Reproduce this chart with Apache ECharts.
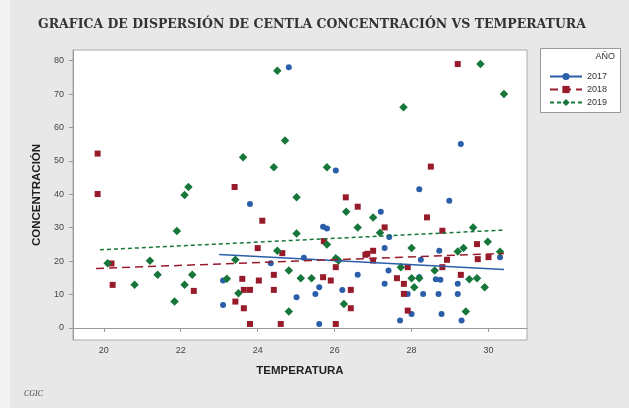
<!DOCTYPE html>
<html>
<head>
<meta charset="utf-8">
<script src="https://cdn.jsdelivr.net/npm/echarts@6/dist/echarts.min.js"></script>
<style>
    html, body { margin: 0; padding: 0; }
    #scatter { width: 629px; height: 408px; }
</style>
</head>
<body>
<div id="scatter"></div>
<script>
// datos: [temperatura, concentracion]
const years = ['2017', '2018', '2019'];

const pts2017 = [
    [23.1, 6.9], [23.1, 14.2], [23.8, 37.1], [24.81, 78], [26.03, 47.1], [25.7, 30.3],
    [25.8, 29.8], [25.2, 21], [24.34, 19.4], [26.6, 15.9], [25.6, 12.2], [25.5, 10.2],
    [26.2, 11.4], [25.01, 9.2], [25.6, 1.2], [29.28, 55.1], [28.2, 41.5], [28.98, 38.1],
    [27.2, 34.8], [27.42, 27.2], [27.3, 23.9], [28.72, 23.1], [30.3, 21.2], [28.24, 20.4],
    [27.4, 17.2], [28.2, 15.2], [28.63, 14.6], [28.75, 14.4], [27.3, 13.2], [29.2, 13.2],
    [27.9, 10.2], [28.3, 10.2], [28.7, 10.2], [29.2, 10.2], [28.0, 4.2], [28.78, 4.2],
    [27.7, 2.2], [29.3, 2.2]
];

const pts2018 = [
    [19.84, 52.2], [19.84, 40.1], [20.2, 19.3], [20.23, 12.9], [22.34, 11.1], [23.4, 42.2],
    [24.12, 32.1], [26.29, 39.1], [26.6, 36.3], [25.72, 26.0], [24.0, 23.9], [24.64, 22.4],
    [26.85, 22.2], [26.03, 18.2], [23.6, 14.7], [24.03, 14.2], [24.42, 15.9], [25.7, 15.2],
    [25.9, 14.2], [23.64, 11.4], [23.8, 11.4], [24.42, 11.4], [26.42, 11.4], [23.42, 7.9],
    [23.64, 5.9], [26.42, 5.9], [23.8, 1.2], [24.6, 1.2], [26.03, 1.2], [29.2, 79],
    [28.5, 48.3], [28.4, 33.1], [27.3, 30.1], [28.8, 29.1], [29.7, 25.1], [30.0, 21.2],
    [29.72, 20.6], [27.0, 23.1], [26.8, 21.9], [27.0, 20.2], [28.92, 20.4], [28.8, 18.2],
    [27.9, 18.2], [29.28, 15.9], [27.62, 14.9], [27.8, 13.2], [27.8, 10.2], [27.9, 5.2]
];

const pts2019 = [
    [22.2, 42.2], [22.1, 39.8], [21.9, 29], [20.1, 19.4], [21.2, 20.1], [21.4, 15.9],
    [22.3, 15.9], [20.8, 12.9], [22.1, 12.9], [21.84, 7.9], [24.51, 77], [24.71, 56.1],
    [23.62, 51.1], [24.42, 48.1], [25.8, 48.1], [25.01, 39.1], [26.3, 34.8], [26.6, 30.1],
    [25.01, 28.3], [25.8, 25], [24.51, 23.1], [26.03, 20.9], [26.1, 20.2], [23.42, 20.4],
    [24.81, 17.2], [23.2, 14.7], [25.12, 14.9], [25.4, 14.9], [23.5, 10.4], [26.24, 7.2],
    [24.81, 4.9], [29.79, 79], [30.4, 70], [27.79, 66.1], [27.0, 33.1], [27.18, 28.5],
    [29.6, 30.1], [29.98, 25.8], [28.0, 23.9], [29.35, 23.9], [29.2, 22.9], [30.3, 22.8],
    [27.72, 18.2], [28.6, 17.2], [28.0, 14.9], [28.2, 14.9], [29.5, 14.6], [29.7, 14.9],
    [28.07, 12.2], [29.9, 12.2], [29.41, 4.9]
];

// rectas de ajuste (extremos)
const fit2017 = [[23.0, 22.0], [30.4, 17.5]];
const fit2018 = [[19.8, 17.8], [30.4, 22.3]];
const fit2019 = [[19.9, 23.4], [30.4, 29.3]];

const xTicks = [20, 22, 24, 26, 28, 30];
const yTicks = [0, 10, 20, 30, 40, 50, 60, 70, 80];

const azul = '#2a5ea9';
const rojo = '#981b2b';
const verde = '#17773a';

function dispersion() {
    let chart = echarts.init(document.getElementById('scatter'));

    const tickFont = {color: '#444', fontSize: 9, fontFamily: 'Liberation Sans'};

    option = {
        backgroundColor: '#e8e8e8',
        animation: false,
        title: {
            text: 'GRAFICA DE DISPERSIÓN DE CENTLA CONCENTRACIÓN VS TEMPERATURA',
            left: 33,
            top: 13,
            textStyle: {
                fontFamily: 'DejaVu Serif',
                fontWeight: 'bold',
                fontSize: 12.5,
                color: '#333'
            }
        },
        grid: {
            left: 73,
            top: 50,
            right: 102,
            bottom: 68,
            show: true,
            backgroundColor: '#fff',
            borderColor: '#aaa',
            borderWidth: 1
        },
        legend: {
            data: years,
            orient: 'vertical',
            left: 544,
            top: 67,
            itemWidth: 32,
            itemHeight: 9,
            itemGap: 4,
            textStyle: {fontSize: 9, color: '#333', fontFamily: 'Liberation Sans'}
        },
        graphic: [
            {type: 'rect', left: 0, top: 0, shape: {width: 10, height: 408}, style: {fill: '#f2f2f2'}, z: -1},
            {type: 'rect', left: 540, top: 48, shape: {width: 80, height: 64},
                style: {fill: '#fff', stroke: '#999', lineWidth: 1}, z: 0},
            {type: 'text', right: 14, top: 52, style: {text: 'AÑO', fontSize: 9, fill: '#333', fontFamily: 'Liberation Sans'}, z: 1},
            {type: 'text', left: 24, top: 390, style: {text: 'CGIC', fontSize: 8, fontStyle: 'italic', fill: '#444', fontFamily: 'Liberation Serif'}}
        ],
        xAxis: {
            type: 'value',
            min: 19.2,
            max: 31.0,
            name: 'TEMPERATURA',
            nameLocation: 'middle',
            nameGap: 25,
            nameTextStyle: {fontSize: 11.5, fontWeight: 'bold', color: '#222', fontFamily: 'Liberation Sans'},
            splitLine: {show: false},
            axisLine: {show: true, lineStyle: {color: '#999'}},
            axisTick: {show: true, length: 4, customValues: xTicks, lineStyle: {color: '#999'}},
            axisLabel: Object.assign({customValues: xTicks, margin: 6}, tickFont)
        },
        yAxis: {
            type: 'value',
            min: -3.6,
            max: 83.2,
            name: 'CONCENTRACIÓN',
            nameLocation: 'middle',
            nameGap: 29,
            nameTextStyle: {fontSize: 11.5, fontWeight: 'bold', color: '#222', fontFamily: 'Liberation Sans'},
            splitLine: {show: false},
            axisLine: {show: true, onZero: false, lineStyle: {color: '#999'}},
            axisTick: {show: true, length: 4, customValues: yTicks, lineStyle: {color: '#999'}},
            axisLabel: Object.assign({customValues: yTicks, margin: 9}, tickFont)
        },
        series: [
            {
                name: 'datos 2017', type: 'scatter', data: pts2017,
                symbol: 'circle', symbolSize: 6, itemStyle: {color: azul, opacity: 1}
            },
            {
                name: 'datos 2018', type: 'scatter', data: pts2018,
                symbol: 'rect', symbolSize: 6, itemStyle: {color: rojo, opacity: 1}
            },
            {
                name: 'datos 2019', type: 'scatter', data: pts2019,
                symbol: 'diamond', symbolSize: 8.5, itemStyle: {color: verde, opacity: 1}
            },
            {
                name: '2017', type: 'line', data: fit2017,
                symbol: 'circle', symbolSize: 6, showSymbol: false,
                itemStyle: {color: azul},
                lineStyle: {color: azul, width: 1.5, type: 'solid'}, z: 3
            },
            {
                name: '2018', type: 'line', data: fit2018,
                symbol: 'rect', symbolSize: 6, showSymbol: false,
                itemStyle: {color: rojo},
                lineStyle: {color: rojo, width: 1.5, type: [8, 5]}, z: 3
            },
            {
                name: '2019', type: 'line', data: fit2019,
                symbol: 'diamond', symbolSize: 8, showSymbol: false,
                itemStyle: {color: verde},
                lineStyle: {color: verde, width: 1.5, type: [4, 3]}, z: 3
            }
        ]
    };

    chart.setOption(option);
}

new dispersion();
</script>
</body>
</html>
